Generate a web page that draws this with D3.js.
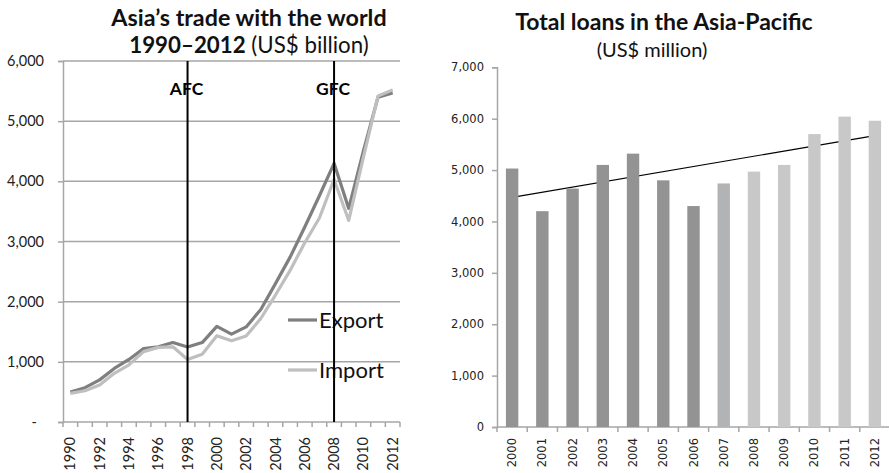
<!DOCTYPE html>
<html>
<head>
<meta charset="utf-8">
<script src="https://cdn.jsdelivr.net/npm/d3@7"></script>
<style>
  html, body { margin: 0; padding: 0; background: #fff; }
  svg { display: block; font-family: Lato, "Open Sans", sans-serif; }
</style>
</head>
<body>
<svg id="chart" width="889" height="473"></svg>
<script>
// ---- Trade data (US$ billion) ----
const tradeYears = d3.range(1990, 2013);
const exportValues = [500, 570, 700, 890, 1040, 1220, 1250, 1320, 1245, 1320, 1590, 1460, 1580, 1870, 2300, 2740, 3240, 3760, 4300, 3550, 4500, 5400, 5470];
const importValues = [476, 520, 615, 810, 950, 1170, 1240, 1250, 1040, 1125, 1435, 1350, 1430, 1720, 2110, 2520, 2980, 3390, 4030, 3350, 4400, 5420, 5520];
const tradeTicks = [0, 1000, 2000, 3000, 4000, 5000, 6000];
const crisisMarks = [{ label: "AFC", year: 1998 }, { label: "GFC", year: 2008 }];

// ---- Loan data (US$ million) ----
const loanYears = d3.range(2000, 2013);
const loanValues = [5030, 4200, 4640, 5100, 5320, 4800, 4300, 4740, 4970, 5100, 5700, 6040, 5960];
const loanTicks = [0, 1000, 2000, 3000, 4000, 5000, 6000, 7000];

const svg = d3.select("#chart");
const axisGray = "#a6a6a6";
const fmt = d3.format(",");

// ================= Left: trade lines =================
const L = { left: 63, right: 400, top: 61, bottom: 422 };
const xT = d3.scaleBand().domain(tradeYears).range([L.left, L.right]).padding(0);
const yT = d3.scaleLinear().domain([0, 6000]).range([L.bottom, L.top]);
const cx = y => xT(y) + xT.bandwidth() / 2;

const left = svg.append("g");

// gridlines
left.append("g").selectAll("line").data(tradeTicks.filter(t => t > 0)).join("line")
  .attr("x1", L.left).attr("x2", L.right)
  .attr("y1", d => yT(d)).attr("y2", d => yT(d))
  .attr("stroke", axisGray).attr("stroke-width", 1.5);

// y axis
const yAxisL = left.append("g").attr("transform", `translate(${L.left},0)`)
  .call(d3.axisLeft(yT).tickValues(tradeTicks).tickSize(5).tickPadding(14)
    .tickFormat(d => d === 0 ? "-" : fmt(d)));
yAxisL.select(".domain").attr("stroke", axisGray).attr("stroke-width", 1.5);
yAxisL.selectAll(".tick line").attr("stroke", axisGray).attr("stroke-width", 1.5);
yAxisL.selectAll(".tick text").attr("font-size", 14.5).attr("fill", "#222")
  .attr("font-family", "Lato, sans-serif");
yAxisL.selectAll(".tick text").filter(d => d === 0).attr("x", -26);

// x axis
const xAxisL = left.append("g").attr("transform", `translate(0,${L.bottom})`);
xAxisL.append("line").attr("x1", L.left).attr("x2", L.right).attr("y1", 0).attr("y2", 0)
  .attr("stroke", axisGray).attr("stroke-width", 1.5);
xAxisL.selectAll("line.tk").data(d3.range(tradeYears.length + 1)).join("line").attr("class", "tk")
  .attr("x1", i => L.left + i * xT.step()).attr("x2", i => L.left + i * xT.step())
  .attr("y1", 0).attr("y2", 5).attr("stroke", axisGray).attr("stroke-width", 1.5);
xAxisL.selectAll("text").data(tradeYears.filter(y => y % 2 === 0)).join("text")
  .attr("transform", d => `translate(${cx(d)},15) rotate(-90)`)
  .attr("text-anchor", "end").attr("dy", "0.35em")
  .attr("font-size", 14.5).attr("fill", "#222").text(d => d);

// lines
const lineGen = vals => d3.line().x((d, i) => cx(tradeYears[i])).y(d => yT(d))(vals);
left.append("path").attr("d", lineGen(exportValues)).attr("fill", "none")
  .attr("stroke", "#7f7f7f").attr("stroke-width", 3.2).attr("stroke-linejoin", "round");
left.append("path").attr("d", lineGen(importValues)).attr("fill", "none")
  .attr("stroke", "#bfbfbf").attr("stroke-width", 3.2).attr("stroke-linejoin", "round");

// legend
const legendItems = [{ name: "Export", color: "#7f7f7f", y: 320 }, { name: "Import", color: "#bfbfbf", y: 370 }];
legendItems.forEach(it => {
  left.append("line").attr("x1", 288).attr("x2", 317).attr("y1", it.y).attr("y2", it.y)
    .attr("stroke", it.color).attr("stroke-width", 3.2);
  left.append("text").attr("x", 319).attr("y", it.y).attr("dy", "0.36em")
    .attr("font-size", 22).attr("fill", "#111").text(it.name);
});

// crisis markers
crisisMarks.forEach(m => {
  left.append("line").attr("x1", cx(m.year)).attr("x2", cx(m.year))
    .attr("y1", L.top).attr("y2", L.bottom).attr("stroke", "#000").attr("stroke-width", 2);
  left.append("text").attr("x", cx(m.year) - 1).attr("y", 95).attr("text-anchor", "middle")
    .attr("font-size", 17.5).attr("font-weight", "bold").attr("fill", "#000").text(m.label);
});

// title
left.append("text").attr("x", 249).attr("y", 26).attr("text-anchor", "middle")
  .attr("font-size", 23.3).attr("font-weight", "bold").attr("fill", "#111")
  .text("Asia\u2019s trade with the world");
const t2 = left.append("text").attr("x", 249).attr("y", 53).attr("text-anchor", "middle")
  .attr("font-size", 22.3).attr("fill", "#111");
t2.append("tspan").attr("font-weight", "bold").text("1990\u20132012");
t2.append("tspan").text(" (US$ billion)");

// ================= Right: loan bars =================
const R = { left: 497, right: 890, top: 67.3, bottom: 427 };
const xL = d3.scaleBand().domain(loanYears).range([R.left, R.right]).paddingInner(0.59).paddingOuter(0.295);
const yL = d3.scaleLinear().domain([0, 7000]).range([R.bottom, R.top]);
const barColor = y => y <= 2006 ? "#939393" : (y === 2007 ? "#b1b3b5" : "#c8c8c9");

const right = svg.append("g");

const yAxisR = right.append("g").attr("transform", `translate(${R.left},0)`)
  .call(d3.axisLeft(yL).tickValues(loanTicks).tickSize(5).tickPadding(8).tickFormat(fmt));
yAxisR.select(".domain").attr("stroke", axisGray).attr("stroke-width", 1.5);
yAxisR.selectAll(".tick line").attr("stroke", axisGray).attr("stroke-width", 1.5);
yAxisR.selectAll(".tick text").attr("font-size", 11.5).attr("fill", "#222")
  .attr("font-family", "'DejaVu Sans', sans-serif");

const xAxisR = right.append("g").attr("transform", `translate(0,${R.bottom})`);
xAxisR.append("line").attr("x1", R.left).attr("x2", R.right).attr("y1", 0).attr("y2", 0)
  .attr("stroke", axisGray).attr("stroke-width", 1.5);
xAxisR.selectAll("line.tk").data(d3.range(loanYears.length + 1)).join("line").attr("class", "tk")
  .attr("x1", i => R.left + i * xL.step()).attr("x2", i => R.left + i * xL.step())
  .attr("y1", 0).attr("y2", 5).attr("stroke", axisGray).attr("stroke-width", 1.5);
xAxisR.selectAll("text").data(loanYears).join("text")
  .attr("transform", d => `translate(${xL(d) + xL.bandwidth() / 2},11) rotate(-90)`)
  .attr("text-anchor", "end").attr("dy", "0.35em")
  .attr("font-size", 11.5).attr("font-family", "'DejaVu Sans', sans-serif")
  .attr("fill", "#222").text(d => d);

// linear trend (least squares over the bar values), drawn beneath the bars
const idx = loanValues.map((v, i) => i);
const mx = d3.mean(idx), my = d3.mean(loanValues);
const slope = d3.sum(idx, i => (i - mx) * (loanValues[i] - my)) / d3.sum(idx, i => (i - mx) ** 2);
const fit = i => my + slope * (i - mx);
const bc = y => xL(y) + xL.bandwidth() / 2;
const nLast = loanYears.length - 1;
right.append("line")
  .attr("x1", bc(loanYears[0])).attr("y1", yL(fit(0)))
  .attr("x2", bc(loanYears[nLast])).attr("y2", yL(fit(nLast)))
  .attr("stroke", "#000").attr("stroke-width", 1.2);

right.append("g").selectAll("rect").data(loanYears).join("rect")
  .attr("x", d => xL(d)).attr("width", xL.bandwidth())
  .attr("y", (d, i) => yL(loanValues[i])).attr("height", (d, i) => yL(0) - yL(loanValues[i]))
  .attr("fill", d => barColor(d));

// title
right.append("text").attr("x", 664).attr("y", 30).attr("text-anchor", "middle")
  .attr("font-size", 23).attr("font-weight", "bold").attr("fill", "#111")
  .text("Total loans in the Asia-Pacific");
right.append("text").attr("x", 652).attr("y", 57).attr("text-anchor", "middle")
  .attr("font-size", 20).attr("fill", "#111").text("(US$ million)");
</script>
</body>
</html>
